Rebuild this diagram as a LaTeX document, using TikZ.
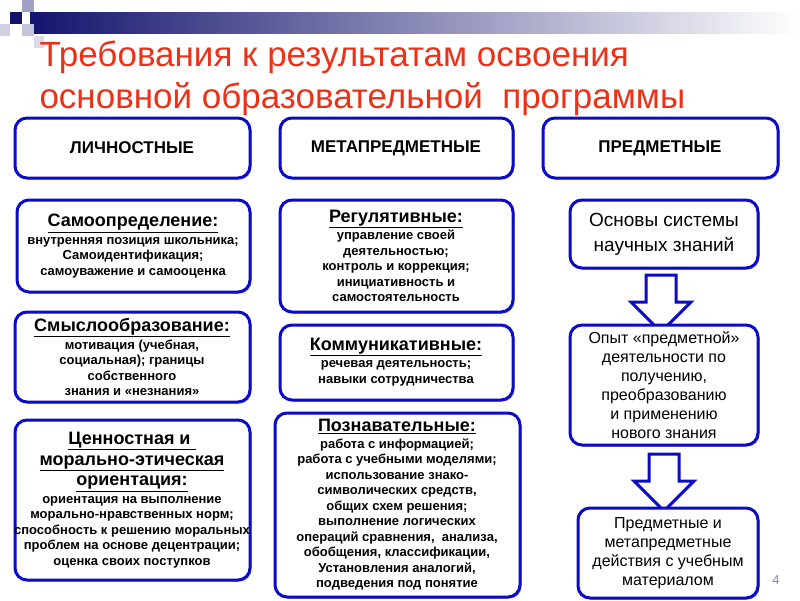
\documentclass[tikz,border=0pt]{standalone}
\usepackage{fontspec}
\setmainfont{Liberation Sans}
\usetikzlibrary{shapes.arrows,shadows}
\definecolor{bb}{RGB}{10,10,200}
\definecolor{navy}{RGB}{20,20,110}
\definecolor{tred}{RGB}{235,50,25}
\tikzset{
 box/.style={draw=bb,line width=3pt,rounded corners=12pt,fill=white,
   drop shadow={shadow xshift=1.5pt,shadow yshift=-1.5pt,fill=navy!80}},
 hd/.style={font=\fontsize{17}{20}\selectfont\bfseries},
 sub/.style={align=center,font=\fontsize{13}{15.5}\selectfont\bfseries},
 bigarrow/.style={draw=bb,line width=3pt,fill=white,single arrow,shape border rotate=270,
   minimum width=60pt,single arrow head extend=15pt,single arrow tip angle=90,inner sep=0pt,minimum height=57pt,text width=27pt}
}
\newcommand{\hh}[1]{{\fontsize{18}{21}\selectfont\underline{#1}}}
\begin{document}
\begin{tikzpicture}[x=1pt,y=-1pt]
\useasboundingbox (0,0) rectangle (800,600);
% decoration
\shade[left color=navy,right color=white] (30,12) rectangle (800,33);
\fill[navy] (10,12) rectangle (22,24);
\fill[navy!40] (22,0) rectangle (34,12);
\fill[navy!25] (22,24) rectangle (34,36);
\fill[navy!20] (0,24) rectangle (10,36);
\fill[navy!15] (34,36) rectangle (44,48);
% title
\node[anchor=west,text=tred,font=\fontsize{35}{38}\selectfont] (t1) at (36,57) {Требования к результатам освоения};
\node[anchor=west,text=tred,font=\fontsize{35}{38}\selectfont] (t2) at (36,99) {основной образовательной\ \ программы};
% headers
\draw[box] (15,118) rectangle (250,178); \node[hd] (h1) at (132,148) {ЛИЧНОСТНЫЕ};
\draw[box] (280,118) rectangle (513,178); \node[hd] (h2) at (396,148) {МЕТАПРЕДМЕТНЫЕ};
\draw[box] (543,118) rectangle (778,178); \node[hd] (h3) at (660,148) {ПРЕДМЕТНЫЕ};
% left column
\draw[box] (17,200) rectangle (250,292);
\node[sub] (l1) at (133,246) {\hh{Самоопределение:}\\[2pt]внутренняя позиция школьника;\\Самоидентификация;\\самоуважение и самооценка};
\draw[box] (15,312) rectangle (250,402);
\node[sub] (l2) at (132,357) {\hh{Смыслообразование:}\\[2pt]мотивация (учебная,\\социальная); границы\\собственного\\знания и «незнания»};
\draw[box] (15,420) rectangle (250,580);
\node[sub] (l3) at (132,500) {\hh{Ценностная и\ }\\[5pt]\hh{морально-этическая}\\[5pt]\hh{ориентация:}\\[2pt]ориентация на выполнение\\морально-нравственных норм;\\способность к решению моральных\\проблем на основе децентрации;\\оценка своих поступков};
% middle column
\draw[box] (280,200) rectangle (513,312);
\node[sub] (m1) at (396,256) {\hh{Регулятивные:}\\[2pt]управление своей\\деятельностью;\\контроль и коррекция;\\инициативность и\\самостоятельность};
\draw[box] (280,325) rectangle (513,400);
\node[sub] (m2) at (396,362) {\hh{Коммуникативные:}\\[2pt]речевая деятельность;\\навыки сотрудничества};
\draw[box] (275,413) rectangle (520,597);
\node[sub] (m3) at (397,505) {\hh{Познавательные:}\\[1pt]работа с информацией;\\работа с учебными моделями;\\использование знако-\\символических средств,\\общих схем решения;\\выполнение логических\\операций сравнения,\ \ анализа,\\обобщения, классификации,\\Установления аналогий,\\подведения под понятие};
% right column
\node[bigarrow] (a1) at (661,296) {};
\node[bigarrow] (a2) at (664,475) {};
\draw[box] (570,200) rectangle (758,268);
\node[align=center,font=\fontsize{19}{25}\selectfont] (r1) at (664,234) {Основы системы\\научных знаний};
\draw[box] (570,325) rectangle (758,445);
\node[align=center,font=\fontsize{16}{19}\selectfont] (r2) at (664,385) {Опыт «предметной»\\деятельности по\\получению,\\преобразованию\\и применению\\нового знания};
\draw[box] (578,508) rectangle (758,598);
\node[align=center,font=\fontsize{16}{19}\selectfont] (r3) at (668,553) {Предметные и\\метапредметные\\действия с учебным\\материалом};
\node[text=navy!50,font=\fontsize{13}{15}\selectfont] (pg) at (776,580) {4};
\end{tikzpicture}
\end{document}
